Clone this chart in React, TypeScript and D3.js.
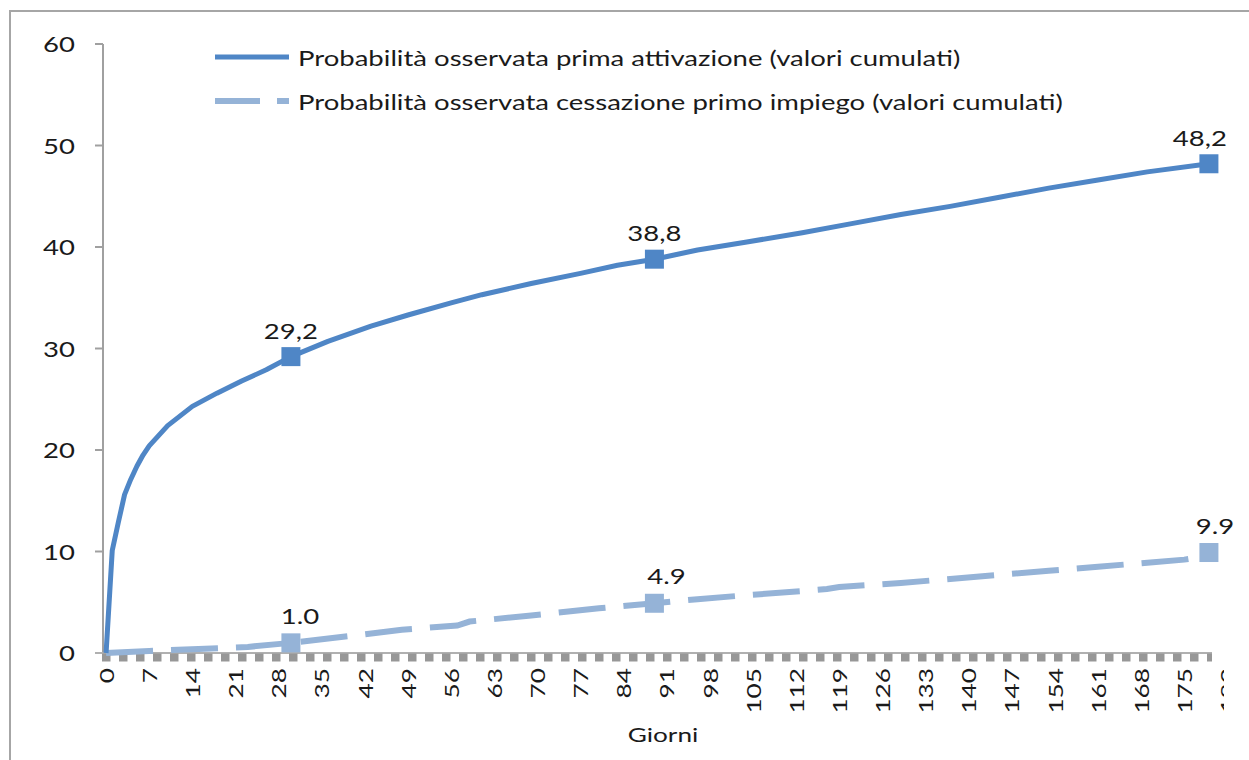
import React from "react";
import * as d3 from "d3";

const activDays = [0, 1, 2, 3, 4, 5, 6, 7, 10, 14, 18, 22, 26, 30, 36, 43, 49, 56, 61, 69, 77, 83, 89, 96, 104, 113, 121, 129, 137, 145, 153, 161, 169, 179];
const activValues = [0, 10.1, 12.9, 15.6, 17.1, 18.4, 19.5, 20.4, 22.4, 24.3, 25.6, 26.8, 27.9, 29.2, 30.7, 32.2, 33.3, 34.5, 35.3, 36.4, 37.4, 38.2, 38.8, 39.7, 40.5, 41.4, 42.3, 43.2, 44.0, 44.9, 45.8, 46.6, 47.4, 48.2];

const cessDays = [0, 7, 15, 23, 30, 40, 48, 57, 59, 69, 80, 89, 96, 104, 113, 117, 119, 129, 137, 145, 153, 161, 169, 175, 177, 179];
const cessValues = [0, 0.2, 0.4, 0.6, 1.0, 1.7, 2.3, 2.7, 3.1, 3.7, 4.4, 4.9, 5.3, 5.7, 6.1, 6.3, 6.5, 6.9, 7.3, 7.7, 8.1, 8.5, 8.9, 9.2, 9.4, 9.9];

const activMarkers = [{ day: 30, value: 29.2, label: "29,2", dx: 0 }, { day: 89, value: 38.8, label: "38,8", dx: 0 }, { day: 179, value: 48.2, label: "48,2", dx: -9 }];
const cessMarkers = [{ day: 30, value: 1.0, label: "1.0", dx: 9 }, { day: 89, value: 4.9, label: "4.9", dx: 12 }, { day: 179, value: 9.9, label: "9.9", dx: 6 }];

const yTicks = [0, 10, 20, 30, 40, 50, 60];
const xTickLabels = [0, 7, 14, 21, 28, 35, 42, 49, 56, 63, 70, 77, 84, 91, 98, 105, 112, 119, 126, 133, 140, 147, 154, 161, 168, 175, 182];

const legendItems = [
  "Probabilità osservata prima attivazione (valori cumulati)",
  "Probabilità osservata cessazione primo impiego (valori cumulati)",
];

const C1 = "#4f86c6";
const C2 = "#95b3d7";
const FONT = "Lato, 'Open Sans', sans-serif";
const SX = 1.31;

function T(props: { x: number; y: number; rot?: number; anchor?: string; size?: number; base?: string; children: React.ReactNode }) {
  const { x, y, rot = 0, anchor = "start", size = 21, base = "alphabetic", children } = props;
  return (
    <text
      transform={`translate(${x},${y}) rotate(${rot}) scale(${SX},1)`}
      textAnchor={anchor}
      dominantBaseline={base}
      fontSize={size}
      fill="#1a1a1a"
    >
      {children}
    </text>
  );
}

export default function App() {
  const left = 103, right = 1212, top = 44, bottom = 653;
  const x = d3.scaleLinear().domain([-0.5, 179.5]).range([left, right]);
  const y = d3.scaleLinear().domain([0, 60]).range([bottom, top]);
  const line = d3.line<[number, number]>().x((d) => x(d[0])).y((d) => y(d[1]));
  const activPath = line(activDays.map((d, i) => [d, activValues[i]]) as [number, number][]) || "";
  const cessPath = line(cessDays.map((d, i) => [d, cessValues[i]]) as [number, number][]) || "";
  const ms = 19;

  return (
    <svg width={1249} height={760} style={{ position: "absolute", left: 0, top: 0, background: "#fff" }} fontFamily={FONT}>
      <defs>
        <clipPath id="labclip">
          <rect x={0} y={0} width={1224} height={760} />
        </clipPath>
      </defs>
      <rect x={10} y={11} width={1260} height={780} fill="#fff" stroke="#a6a6a6" strokeWidth={2} />
      {/* y axis */}
      <line x1={left} x2={left} y1={top} y2={bottom} stroke="#a0a0a0" strokeWidth={2} />
      {yTicks.map((t) => (
        <g key={t}>
          <line x1={left - 8} x2={left} y1={y(t)} y2={y(t)} stroke="#a0a0a0" strokeWidth={2} />
          <T x={left - 28} y={y(t)} anchor="end" base="central">{t}</T>
        </g>
      ))}
      {/* x axis */}
      <line x1={left - 8} x2={right} y1={bottom} y2={bottom} stroke="#b0b0b0" strokeWidth={2} />
      <line x1={left - 1} x2={right} y1={bottom + 4.5} y2={bottom + 4.5} stroke="#979797" strokeWidth={8} strokeDasharray="8.5,8.5" />
      <g clipPath="url(#labclip)">
        {xTickLabels.map((t) => (
          <T key={t} x={x(t)} y={bottom + 15} rot={-90} anchor="end" base="central" size={20}>{t}</T>
        ))}
      </g>
      <T x={663} y={742} anchor="middle" size={20}>Giorni</T>
      {/* lines */}
      <path d={cessPath} fill="none" stroke={C2} strokeWidth={6} strokeDasharray="47,18" />
      <path d={activPath} fill="none" stroke={C1} strokeWidth={5} strokeLinejoin="round" />
      {cessMarkers.map((m) => (
        <g key={m.label}>
          <rect x={x(m.day) - ms / 2} y={y(m.value) - ms / 2} width={ms} height={ms} fill={C2} />
          <T x={x(m.day) + m.dx} y={y(m.value) - 19} anchor="middle">{m.label}</T>
        </g>
      ))}
      {activMarkers.map((m) => (
        <g key={m.label}>
          <rect x={x(m.day) - ms / 2} y={y(m.value) - ms / 2} width={ms} height={ms} fill={C1} />
          <T x={x(m.day) + m.dx} y={y(m.value) - 18} anchor="middle">{m.label}</T>
        </g>
      ))}
      {/* legend */}
      <line x1={215} x2={289} y1={57} y2={57} stroke={C1} strokeWidth={5} />
      <T x={298} y={58} base="central">{legendItems[0]}</T>
      <line x1={215} x2={289} y1={101} y2={101} stroke={C2} strokeWidth={6} strokeDasharray="45,17" />
      <T x={298} y={102} base="central">{legendItems[1]}</T>
    </svg>
  );
}
